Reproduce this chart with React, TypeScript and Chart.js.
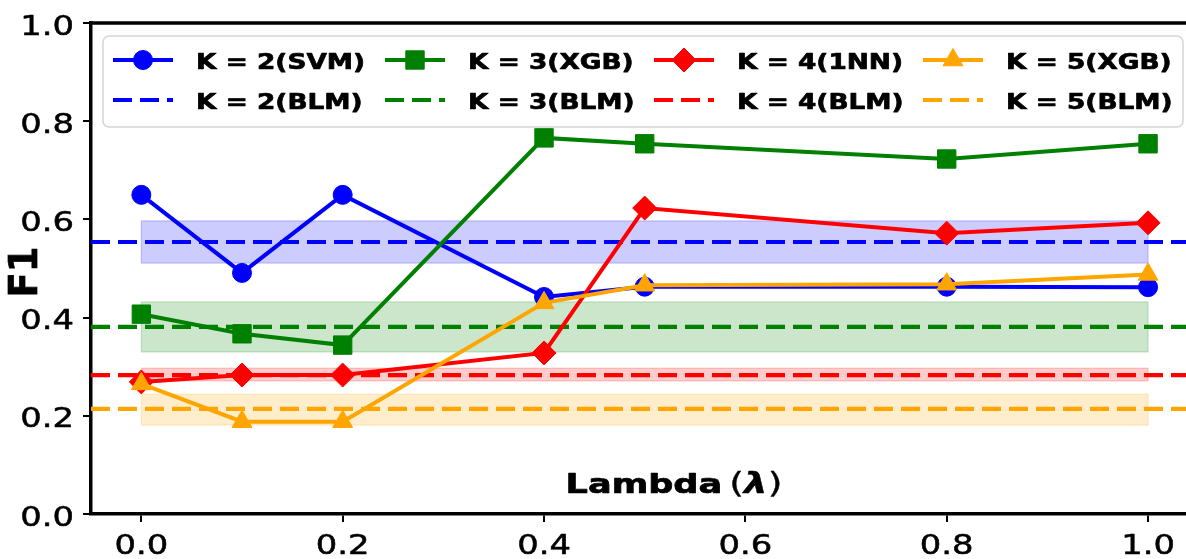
import React, { useEffect, useRef } from "react";
import { Chart, registerables } from "chart.js";

Chart.register(...registerables);

// ---------------- data ----------------
const lambdas = [0, 0.1, 0.2, 0.4, 0.5, 0.8, 1.0];
const k2Svm = [0.65, 0.491, 0.65, 0.442, 0.463, 0.463, 0.462];
const k3Xgb = [0.407, 0.367, 0.344, 0.766, 0.754, 0.723, 0.754];
const k4Nn = [0.269, 0.283, 0.283, 0.328, 0.623, 0.572, 0.593];
const k5Xgb = [0.265, 0.188, 0.188, 0.43, 0.466, 0.468, 0.488];

const blmMean = [0.554, 0.381, 0.283, 0.214];
const blmLow = [0.511, 0.33, 0.271, 0.181];
const blmHigh = [0.597, 0.432, 0.297, 0.244];

const modelLabels = ["K = 2(SVM)", "K = 3(XGB)", "K = 4(1NN)", "K = 5(XGB)"];
const blmLabels = ["K = 2(BLM)", "K = 3(BLM)", "K = 4(BLM)", "K = 5(BLM)"];

const xTicks = [0, 0.2, 0.4, 0.6, 0.8, 1.0];
const yTicks = [0, 0.2, 0.4, 0.6, 0.8, 1.0];
const bandXRange = [0, 1];
const xLabelMain = "Lambda";
const xLabelSym = "λ";
const yLabel = "F1";

// ---------------- style ----------------
const W = 1186;
const H = 559;
const X_MIN = -0.05;
const X_MAX = 1.0377;
const COLORS = ["#0000ff", "#008000", "#ff0000", "#ffa500"];
const BAND_FILL = ["rgba(0,0,255,0.2)", "rgba(0,128,0,0.2)", "rgba(255,0,0,0.2)", "rgba(255,165,0,0.2)"];
const MARKERS = ["circle", "rect", "rectRot", "triangle"];
const RADII = [9.5, 13, 12, 11.5];
const FONT = '"DejaVu Sans", sans-serif';
const SX_TICK = 1.3;
const SX_LEG = 1.2;
const SX_LAB = 1.3;
const DASH = [19, 8];
// legend layout (pixels)
const LEG_HANDLE_X = [113, 385, 654, 923];
const LEG_TEXT_DX = 83;
const LEG_HANDLE_LEN = 60;
const LEG_BOX = { left: 103, top: 36, right: 1183, bottom: 127 };
const LEG_ROW_Y = [60, 100];

const seriesList = [k2Svm, k3Xgb, k4Nn, k5Xgb];

function sText(
  ctx: CanvasRenderingContext2D,
  text: string,
  x: number,
  y: number,
  font: string,
  align: CanvasTextAlign,
  sx: number,
  thick = 0.7
) {
  ctx.save();
  ctx.font = font;
  ctx.textAlign = align;
  ctx.textBaseline = "alphabetic";
  ctx.fillStyle = "#000";
  ctx.strokeStyle = "#000";
  ctx.lineWidth = thick;
  ctx.lineJoin = "round";
  ctx.translate(x, y);
  ctx.scale(sx, 1);
  ctx.fillText(text, 0, 0);
  if (thick > 0) ctx.strokeText(text, 0, 0);
  ctx.restore();
}

function drawMarker(ctx: CanvasRenderingContext2D, style: string, x: number, y: number, r: number, color: string) {
  ctx.save();
  ctx.fillStyle = color;
  ctx.strokeStyle = color;
  ctx.lineWidth = 1;
  ctx.beginPath();
  if (style === "circle") {
    ctx.arc(x, y, r, 0, Math.PI * 2);
  } else if (style === "rect") {
    const s = r * Math.SQRT1_2;
    ctx.rect(x - s, y - s, 2 * s, 2 * s);
  } else if (style === "rectRot") {
    ctx.moveTo(x, y - r);
    ctx.lineTo(x + r, y);
    ctx.lineTo(x, y + r);
    ctx.lineTo(x - r, y);
    ctx.closePath();
  } else {
    const c = Math.cos(Math.PI / 6) * r;
    ctx.moveTo(x, y - r);
    ctx.lineTo(x + c, y + r / 2);
    ctx.lineTo(x - c, y + r / 2);
    ctx.closePath();
  }
  ctx.fill();
  ctx.stroke();
  ctx.restore();
}

const customPlugin = {
  id: "customDraw",
  beforeDatasetsDraw(chart: any) {
    const { ctx, chartArea, scales } = chart;
    const xs = scales.x;
    const ys = scales.y;
    ctx.save();
    ctx.beginPath();
    ctx.rect(chartArea.left, chartArea.top, chartArea.right - chartArea.left, chartArea.bottom - chartArea.top);
    ctx.clip();
    const x0 = xs.getPixelForValue(bandXRange[0]);
    const x1 = xs.getPixelForValue(bandXRange[1]);
    for (let i = 0; i < blmMean.length; i++) {
      const yTop = ys.getPixelForValue(blmHigh[i]);
      const yBot = ys.getPixelForValue(blmLow[i]);
      ctx.fillStyle = BAND_FILL[i];
      ctx.fillRect(x0, yTop, x1 - x0, yBot - yTop);
      ctx.strokeStyle = BAND_FILL[i];
      ctx.lineWidth = 1.2;
      ctx.strokeRect(x0, yTop, x1 - x0, yBot - yTop);
    }
    ctx.restore();
  },
  afterDraw(chart: any) {
    const { ctx, chartArea, scales } = chart;
    const xs = scales.x;
    const ys = scales.y;

    // top spine
    ctx.save();
    ctx.strokeStyle = "#000";
    ctx.lineWidth = 3.5;
    ctx.beginPath();
    ctx.moveTo(chartArea.left - 1.75, chartArea.top);
    ctx.lineTo(chartArea.right, chartArea.top);
    ctx.stroke();
    ctx.restore();

    // tick labels
    const tickFont = `26px ${FONT}`;
    xTicks.forEach((v) => {
      sText(ctx, v.toFixed(1), xs.getPixelForValue(v), 554, tickFont, "center", SX_TICK, 0.5);
    });
    yTicks.forEach((v) => {
      sText(ctx, v.toFixed(1), 74, ys.getPixelForValue(v) + 11.5, tickFont, "right", SX_TICK, 0.5);
    });

    // y label (rotated)
    ctx.save();
    ctx.font = `bold 37px ${FONT}`;
    ctx.fillStyle = "#000";
    ctx.strokeStyle = "#000";
    ctx.lineWidth = 0.7;
    ctx.textAlign = "center";
    ctx.textBaseline = "middle";
    ctx.translate(27, 272);
    ctx.scale(1.05, 1);
    ctx.rotate(-Math.PI / 2);
    ctx.fillText(yLabel, 0, 0);
    ctx.strokeText(yLabel, 0, 0);
    ctx.restore();

    // x label "Lambda (λ)"
    ctx.save();
    const fMain = `bold 27px ${FONT}`;
    const fPar = `29px ${FONT}`;
    const fSym = `italic bold 29px ${FONT}`;
    ctx.font = fMain;
    const wMain = ctx.measureText(xLabelMain).width * SX_LAB;
    ctx.font = fPar;
    const wPar = ctx.measureText("(").width * SX_LAB;
    ctx.font = fSym;
    const wSym = ctx.measureText(xLabelSym).width * SX_LAB;
    const gap = 7;
    const total = wMain + gap + wPar * 2 + wSym;
    let cx = 674 - total / 2;
    const by = 493;
    sText(ctx, xLabelMain, cx, by, fMain, "left", SX_LAB);
    cx += wMain + gap;
    sText(ctx, "(", cx, by, fPar, "left", SX_LAB, 0.4);
    cx += wPar;
    sText(ctx, xLabelSym, cx, by, fSym, "left", SX_LAB, 0.4);
    cx += wSym;
    sText(ctx, ")", cx, by, fPar, "left", SX_LAB, 0.4);
    ctx.restore();

    // legend
    const legFont = `bold 22px ${FONT}`;
    ctx.save();
    ctx.beginPath();
    (ctx as any).roundRect(
      LEG_BOX.left,
      LEG_BOX.top,
      LEG_BOX.right - LEG_BOX.left,
      LEG_BOX.bottom - LEG_BOX.top,
      6
    );
    ctx.fillStyle = "rgba(255,255,255,0.8)";
    ctx.fill();
    ctx.strokeStyle = "#d5d5d5";
    ctx.lineWidth = 1.5;
    ctx.stroke();
    ctx.restore();

    for (let i = 0; i < 4; i++) {
      const x = LEG_HANDLE_X[i];
      ctx.save();
      ctx.strokeStyle = COLORS[i];
      ctx.lineWidth = 4;
      ctx.beginPath();
      ctx.moveTo(x, LEG_ROW_Y[0]);
      ctx.lineTo(x + LEG_HANDLE_LEN, LEG_ROW_Y[0]);
      ctx.stroke();
      ctx.restore();
      drawMarker(ctx, MARKERS[i], x + LEG_HANDLE_LEN / 2, LEG_ROW_Y[0], RADII[i], COLORS[i]);
      sText(ctx, modelLabels[i], x + LEG_TEXT_DX, LEG_ROW_Y[0] + 9, legFont, "left", SX_LEG);
      ctx.save();
      ctx.strokeStyle = COLORS[i];
      ctx.lineWidth = 4;
      ctx.setLineDash(DASH);
      ctx.beginPath();
      ctx.moveTo(x, LEG_ROW_Y[1]);
      ctx.lineTo(x + LEG_HANDLE_LEN, LEG_ROW_Y[1]);
      ctx.stroke();
      ctx.restore();
      sText(ctx, blmLabels[i], x + LEG_TEXT_DX, LEG_ROW_Y[1] + 9, legFont, "left", SX_LEG);
    }
  },
};

function buildDatasets() {
  const ds: any[] = [];
  let seq = 0;
  for (let i = 0; i < 4; i++) {
    ds.push({
      label: modelLabels[i],
      data: lambdas.map((x, j) => ({ x, y: seriesList[i][j] })),
      borderColor: COLORS[i],
      backgroundColor: COLORS[i],
      borderWidth: 4,
      pointStyle: MARKERS[i],
      pointRadius: RADII[i],
      pointBackgroundColor: COLORS[i],
      pointBorderColor: COLORS[i],
      pointBorderWidth: 1,
      tension: 0,
      fill: false,
      order: 100 - seq++,
    });
    ds.push({
      label: blmLabels[i],
      data: [
        { x: X_MIN, y: blmMean[i] },
        { x: X_MAX + 0.05, y: blmMean[i] },
      ],
      borderColor: COLORS[i],
      backgroundColor: COLORS[i],
      borderWidth: 4.2,
      borderDash: DASH,
      pointRadius: 0,
      tension: 0,
      fill: false,
      order: 100 - seq++,
    });
  }
  return ds;
}

export default function App() {
  const ref = useRef<HTMLCanvasElement>(null);
  useEffect(() => {
    const canvas = ref.current;
    if (!canvas) return;
    const chart = new Chart(canvas, {
      type: "line",
      data: { datasets: buildDatasets() },
      options: {
        animation: false,
        responsive: false,
        devicePixelRatio: 1,
        layout: { autoPadding: false, padding: { top: 23, left: 0, right: 0, bottom: 0 } },
        plugins: {
          legend: { display: false },
          tooltip: { enabled: false },
          title: { display: false },
        },
        scales: {
          x: {
            type: "linear",
            min: X_MIN,
            max: X_MAX,
            afterBuildTicks: (s: any) => {
              s.ticks = xTicks.map((v) => ({ value: v }));
            },
            afterFit: (s: any) => {
              s.height = H - 514;
            },
            ticks: { display: false },
            grid: {
              display: true,
              drawOnChartArea: false,
              drawTicks: true,
              tickLength: 8,
              color: "#000",
              lineWidth: 2,
            },
            border: { display: true, color: "#000", width: 3.5 },
          },
          y: {
            type: "linear",
            min: 0,
            max: 1,
            afterBuildTicks: (s: any) => {
              s.ticks = yTicks.map((v) => ({ value: v }));
            },
            afterFit: (s: any) => {
              s.width = 91;
            },
            ticks: { display: false },
            grid: {
              display: true,
              drawOnChartArea: false,
              drawTicks: true,
              tickLength: 8,
              color: "#000",
              lineWidth: 2,
            },
            border: { display: true, color: "#000", width: 3.5 },
          },
        },
      },
      plugins: [customPlugin],
    } as any);
    return () => chart.destroy();
  }, []);
  return (
    <div
      style={{
        position: "fixed",
        left: 0,
        top: 0,
        width: W,
        height: H,
        overflow: "hidden",
        background: "#fff",
      }}
    >
      <canvas ref={ref} width={W} height={H} style={{ display: "block", width: W, height: H }} />
    </div>
  );
}
